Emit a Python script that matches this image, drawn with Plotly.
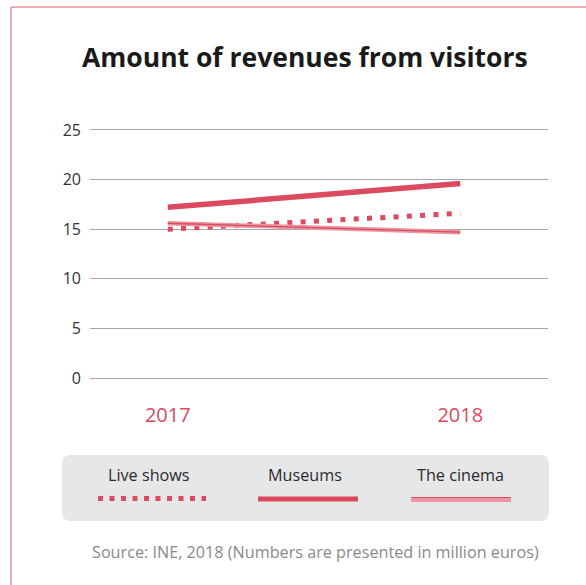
import plotly.graph_objects as go

# Revenue data (million euros)
years = ["2017", "2018"]
live_shows = [15.0, 16.6]
museums = [17.2, 19.6]
cinema = [15.6, 14.7]
y_ticks = [0, 5, 10, 15, 20, 25]

RED = "#db4a5e"
PINK = "#eb97a3"
FONT = "Open Sans"

W, H = 586, 585
# y range is padded half a unit each side so the 0 and 25 gridlines draw
PAD = 0.5
UNIT = (378 - 130) / 25.0
L, R = 90, 38
T = int(round(130 - PAD * UNIT))
B = int(round(H - 378 - PAD * UNIT))
PW, PH = W - L - R, H - T - B


def px(x):
    return (x - L) / PW


def py(y):
    return (H - B - y) / PH


xpos = [0, 1]

fig = go.Figure()

fig.add_trace(go.Scatter(
    x=xpos, y=live_shows, mode="lines", name="Live shows",
    line=dict(color=RED, width=5, dash="5px,8.3px"), showlegend=False))
fig.add_trace(go.Scatter(
    x=xpos, y=cinema, mode="lines", name="The cinema",
    line=dict(color=PINK, width=4.5), showlegend=False))
fig.add_trace(go.Scatter(
    x=xpos, y=cinema, mode="lines", name="The cinema",
    line=dict(color=RED, width=1.3), showlegend=False))
fig.add_trace(go.Scatter(
    x=xpos, y=museums, mode="lines", name="Museums",
    line=dict(color=RED, width=5.5), showlegend=False))

shapes = []
# outer frame
shapes.append(dict(type="rect", xref="paper", yref="paper",
                   x0=px(11), x1=px(620), y0=py(620), y1=py(7),
                   line=dict(color="#df5a6b", width=1), fillcolor="rgba(0,0,0,0)",
                   layer="below"))

# legend panel with rounded corners
x0, x1, y0, y1 = px(62), px(549), py(521), py(455)
rx, ry = 9 / PW, 9 / PH
path = (f"M {x0+rx},{y1} L {x1-rx},{y1} Q {x1},{y1} {x1},{y1-ry} "
        f"L {x1},{y0+ry} Q {x1},{y0} {x1-rx},{y0} L {x0+rx},{y0} "
        f"Q {x0},{y0} {x0},{y0+ry} L {x0},{y1-ry} Q {x0},{y1} {x0+rx},{y1} Z")
shapes.append(dict(type="path", xref="paper", yref="paper", path=path,
                   fillcolor="#e6e7e9", line=dict(width=0)))

# legend samples
shapes.append(dict(type="line", xref="paper", yref="paper",
                   x0=px(98), x1=px(206), y0=py(498.5), y1=py(498.5),
                   line=dict(color=RED, width=5, dash="5px,6.5px")))
shapes.append(dict(type="line", xref="paper", yref="paper",
                   x0=px(258), x1=px(358), y0=py(499), y1=py(499),
                   line=dict(color=RED, width=5)))
shapes.append(dict(type="line", xref="paper", yref="paper",
                   x0=px(411), x1=px(511), y0=py(499.5), y1=py(499.5),
                   line=dict(color=PINK, width=5)))
shapes.append(dict(type="line", xref="paper", yref="paper",
                   x0=px(411), x1=px(511), y0=py(497.5), y1=py(497.5),
                   line=dict(color=RED, width=1.2)))


def label(text, x, y, size, color, bold=False):
    return dict(text=f"<b>{text}</b>" if bold else text,
                x=px(x), y=py(y), xref="paper", yref="paper",
                xanchor="center", yanchor="middle", showarrow=False,
                font=dict(family=FONT, size=size, color=color))


annotations = [
    label("Amount of revenues from visitors", 305, 57, 26.5, "#1a1a1a", bold=True),
    label("Live shows", 149, 475, 16.2, "#2a2a2a"),
    label("Museums", 305, 475, 16.2, "#2a2a2a"),
    label("The cinema", 460, 475, 16.2, "#2a2a2a"),
    label("Source: INE, 2018 (Numbers are presented in million euros)",
          315, 552, 16.2, "#8a8a8a"),
]

fig.update_layout(
    width=W, height=H,
    margin=dict(l=L, r=R, t=T, b=B, pad=0),
    paper_bgcolor="white", plot_bgcolor="white",
    showlegend=False,
    shapes=shapes,
    annotations=annotations,
    xaxis=dict(range=[-0.266, 1.30], tickvals=xpos, ticktext=years,
               showgrid=False, zeroline=False, showline=False, ticks="",
               tickfont=dict(family=FONT, size=20, color=RED),
               ticklabelstandoff=18),
    yaxis=dict(range=[-PAD, 25 + PAD], tickvals=y_ticks,
               showgrid=True, gridcolor="#a6a6a6", gridwidth=1,
               zeroline=False, showline=False, ticks="",
               tickfont=dict(family=FONT, size=16, color="#333333"),
               ticklabelstandoff=8),
)

fig.write_html("out.html")
